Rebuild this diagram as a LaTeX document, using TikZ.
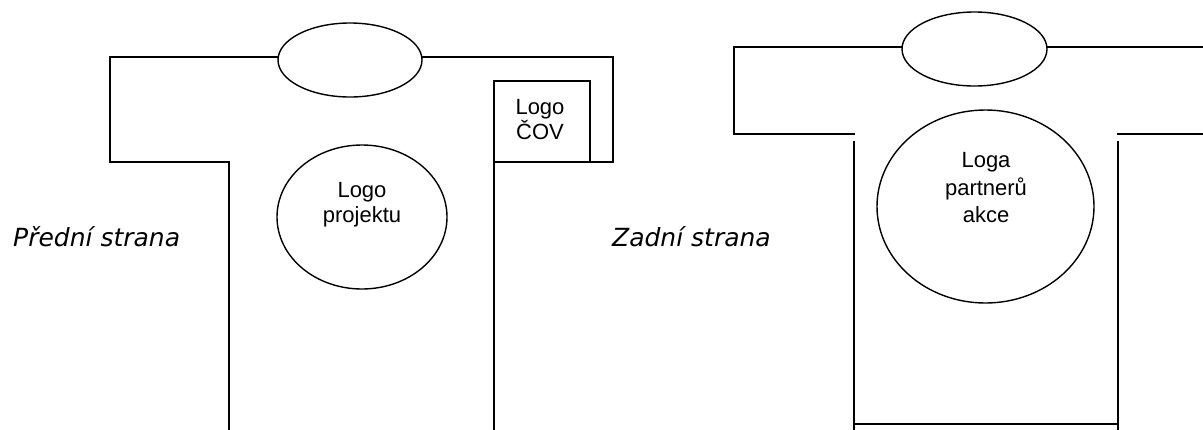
\documentclass[tikz,border=0pt]{standalone}
\usepackage{fontspec}
\usetikzlibrary{shapes.geometric}
\newfontfamily\arialf{Liberation Sans}
\newfontfamily\verdf{DejaVu Sans}
\tikzset{
  shirt/.style={line width=1.6pt, line cap=rect},
  oval/.style={ellipse, draw, line width=1.4pt, inner sep=0pt, fill=white},
  logotext/.style={font=\arialf\fontsize{22}{25}\selectfont, align=center, inner sep=0pt},
  sidelabel/.style={font=\verdf\itshape\fontsize{25}{30}\selectfont, inner sep=0pt}
}
\begin{document}
\begin{tikzpicture}[x=1pt,y=-1pt]
\useasboundingbox (0,0) rectangle (1203,429);
% ---------- front ----------
\node[oval, minimum width=144pt, minimum height=74pt] (collarF) at (350,60) {};
\coordinate (fTL) at (110,57);
\coordinate (fLS) at (110,162);
\coordinate (fLA) at (229,162);
\coordinate (fLB) at (229,429);
\coordinate (fTR) at (613,57);
\coordinate (fRS) at (613,162);
\coordinate (fRA) at (494,162);
\coordinate (fRB) at (494,429);
\draw[shirt] (fTL -| collarF.west) -- (fTL) -- (fLS) -- (fLA) -- (fLB);
\draw[shirt] (fTR -| collarF.east) -- (fTR) -- (fRS) -- (fRA) -- (fRB);
\node[draw, line width=1.6pt, minimum width=96pt, minimum height=81pt, inner sep=0pt] (cov) at (542,121.5) {};
\node[logotext] (covtext) at (540,119.2) {Logo\\ČOV};
\node[oval, minimum width=170pt, minimum height=144pt] (projF) at (362,217) {};
\node[logotext] (projtext) at (362,204.8) {Logo\\projektu};
\node[sidelabel, anchor=base west] (front) at (13,246.5) {Přední strana};
% ---------- back ----------
\node[oval, minimum width=145pt, minimum height=74pt] (collarB) at (974.5,49) {};
\coordinate (bTL) at (734,47);
\coordinate (bLS) at (734,134);
\coordinate (bLA) at (854,134);
\coordinate (bLT) at (854,142);
\coordinate (bLB) at (854,429);
\coordinate (bRT) at (1118,142);
\coordinate (bRB) at (1118,429);
\coordinate (bRA) at (1118,134);
\coordinate (bRS) at (1203,134);
\coordinate (bTR) at (1203,47);
\coordinate (bBL) at (854,424);
\coordinate (bBR) at (1118,424);
\draw[shirt] (bTL -| collarB.west) -- (bTL) -- (bLS) -- (bLA);
\draw[shirt] (bTR -| collarB.east) -- (bTR);
\draw[shirt] (bRA) -- (bRS);
\draw[shirt] (bLT) -- (bLB);
\draw[shirt] (bRT) -- (bRB);
\draw[shirt] (bBL) -- (bBR);
\node[oval, minimum width=217pt, minimum height=193pt] (partB) at (985.5,206.5) {};
\node[logotext, font=\arialf\fontsize{22}{27.5}\selectfont] (parttext) at (986,187.7) {Loga\\partnerů\\akce};
\node[sidelabel, anchor=base east] (back) at (771,246) {Zadní strana};
\end{tikzpicture}
\end{document}
